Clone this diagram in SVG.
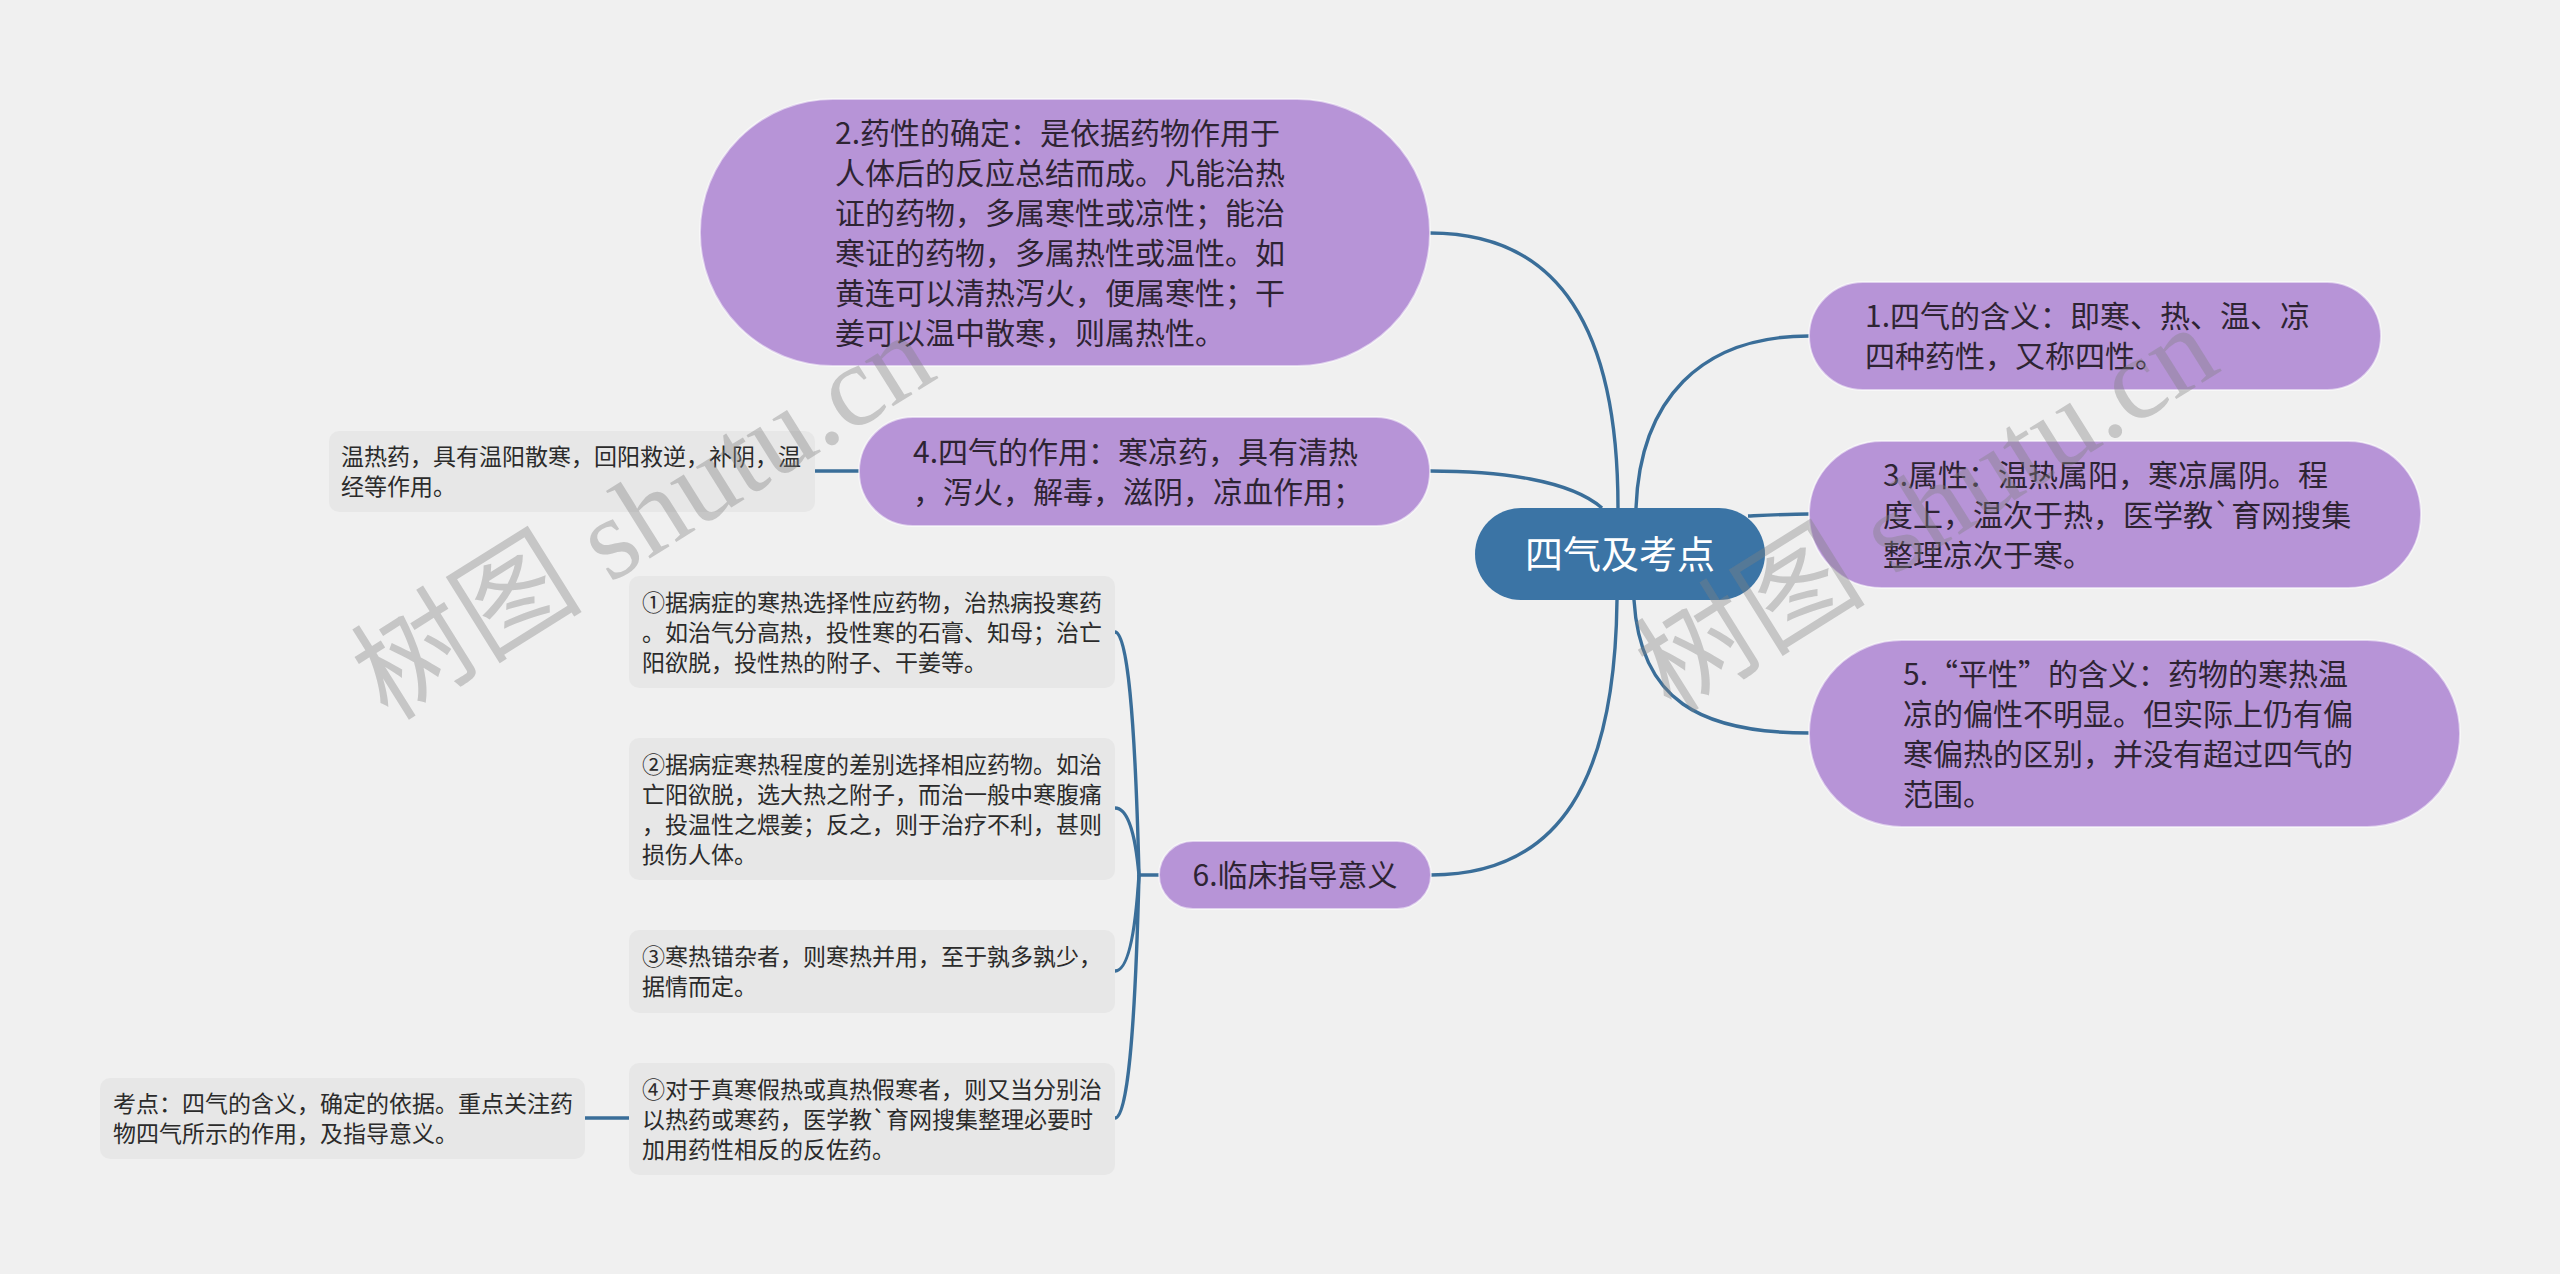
<svg xmlns="http://www.w3.org/2000/svg" width="2560" height="1274" viewBox="0 0 2560 1274">
<style>
.bg{fill:#f0f0f0}
.main{fill:#b794d7;stroke:#ffffff;stroke-opacity:0.55;stroke-width:2}
.root{fill:#3b74a5}
.leaf{fill:#e7e7e7}
.t30{font-family:"Noto Sans CJK SC","Noto Sans",sans-serif;font-size:30px;fill:#2e2433}
.t23{font-family:"Noto Sans CJK SC","Noto Sans",sans-serif;font-size:23px;fill:#2b2b2b}
.troot{font-family:"Noto Sans CJK SC","Noto Sans",sans-serif;font-size:38px;fill:#ffffff}
.wm{font-family:"Liberation Serif","Noto Sans CJK SC",serif;font-size:116px;fill:#808080;fill-opacity:0.38}
#connectors path{fill:none;stroke:#3a6e99;stroke-width:3.4}
</style>
<rect class="bg" x="0" y="0" width="2560" height="1274"/>

<g id="connectors">
<path d="M1618 508 C1618 330 1560 233 1430 233"/>
<path d="M1636 508 C1640 400 1700 336 1809 336"/>
<path d="M1602 508 C1570 480 1500 471 1430 471"/>
<path d="M1748 516 C1770 515 1790 514 1809 514"/>
<path d="M1634 600 C1640 700 1700 733 1809 733"/>
<path d="M1617 600 C1615 780 1560 875 1431 875"/>
<path d="M815 471 L859 471"/>
<path d="M1159 875 L1139 875 Q1133 632 1115 632"/>
<path d="M1139 875 Q1133 808 1115 808"/>
<path d="M1139 875 Q1133 971 1115 971"/>
<path d="M1139 875 Q1133 1118 1115 1118"/>
<path d="M585 1118 L629 1118"/>
</g>

<g id="root">
<rect class="root" x="1475" y="508" width="290" height="92" rx="46"/>
<text class="troot" x="1620" y="568" text-anchor="middle">四气及考点</text>
</g>

<g id="node1">
<rect class="main" x="1809" y="282" width="572" height="108" rx="54"/>
<text class="t30"><tspan x="1865" y="327">1.四气的含义：即寒、热、温、凉</tspan><tspan x="1865" y="367">四种药性，又称四性。</tspan></text>
</g>

<g id="node2">
<rect class="main" x="700" y="99" width="730" height="267" rx="133"/>
<text class="t30"><tspan x="835" y="144">2.药性的确定：是依据药物作用于</tspan><tspan x="835" y="184">人体后的反应总结而成。凡能治热</tspan><tspan x="835" y="224">证的药物，多属寒性或凉性；能治</tspan><tspan x="835" y="264">寒证的药物，多属热性或温性。如</tspan><tspan x="835" y="304">黄连可以清热泻火，便属寒性；干</tspan><tspan x="835" y="344">姜可以温中散寒，则属热性。</tspan></text>
</g>

<g id="node3">
<rect class="main" x="1809" y="441" width="612" height="147" rx="73"/>
<text class="t30"><tspan x="1883" y="486">3.属性：温热属阳，寒凉属阴。程</tspan><tspan x="1883" y="526">度上，温次于热，医学教`育网搜集</tspan><tspan x="1883" y="566">整理凉次于寒。</tspan></text>
</g>

<g id="node4">
<rect class="main" x="859" y="417" width="571" height="109" rx="54"/>
<text class="t30"><tspan x="913" y="463">4.四气的作用：寒凉药，具有清热</tspan><tspan x="913" y="503">，泻火，解毒，滋阴，凉血作用；</tspan></text>
</g>

<g id="node5">
<rect class="main" x="1809" y="640" width="651" height="187" rx="93"/>
<text class="t30"><tspan x="1903" y="685">5.“平性”的含义：药物的寒热温</tspan><tspan x="1903" y="725">凉的偏性不明显。但实际上仍有偏</tspan><tspan x="1903" y="765">寒偏热的区别，并没有超过四气的</tspan><tspan x="1903" y="805">范围。</tspan></text>
</g>

<g id="node6">
<rect class="main" x="1159" y="841" width="272" height="68" rx="34"/>
<text class="t30" x="1295" y="886" text-anchor="middle">6.临床指导意义</text>
</g>

<g id="leaf-wenre">
<rect class="leaf" x="329" y="431" width="486" height="81" rx="10"/>
<text class="t23"><tspan x="341" y="465">温热药，具有温阳散寒，回阳救逆，补阴，温</tspan><tspan x="341" y="495">经等作用。</tspan></text>
</g>

<g id="leaf1">
<rect class="leaf" x="629" y="576" width="486" height="112" rx="10"/>
<text class="t23"><tspan x="642" y="611">①据病症的寒热选择性应药物，治热病投寒药</tspan><tspan x="642" y="641">。如治气分高热，投性寒的石膏、知母；治亡</tspan><tspan x="642" y="671">阳欲脱，投性热的附子、干姜等。</tspan></text>
</g>

<g id="leaf2">
<rect class="leaf" x="629" y="738" width="486" height="142" rx="10"/>
<text class="t23"><tspan x="642" y="773">②据病症寒热程度的差别选择相应药物。如治</tspan><tspan x="642" y="803">亡阳欲脱，选大热之附子，而治一般中寒腹痛</tspan><tspan x="642" y="833">，投温性之煨姜；反之，则于治疗不利，甚则</tspan><tspan x="642" y="863">损伤人体。</tspan></text>
</g>

<g id="leaf3">
<rect class="leaf" x="629" y="930" width="486" height="83" rx="10"/>
<text class="t23"><tspan x="642" y="965">③寒热错杂者，则寒热并用，至于孰多孰少，</tspan><tspan x="642" y="995">据情而定。</tspan></text>
</g>

<g id="leaf4">
<rect class="leaf" x="629" y="1063" width="486" height="112" rx="10"/>
<text class="t23"><tspan x="642" y="1098">④对于真寒假热或真热假寒者，则又当分别治</tspan><tspan x="642" y="1128">以热药或寒药，医学教`育网搜集整理必要时</tspan><tspan x="642" y="1158">加用药性相反的反佐药。</tspan></text>
</g>

<g id="leaf-kaodian">
<rect class="leaf" x="100" y="1078" width="485" height="81" rx="10"/>
<text class="t23"><tspan x="113" y="1112">考点：四气的含义，确定的依据。重点关注药</tspan><tspan x="113" y="1142">物四气所示的作用，及指导意义。</tspan></text>
</g>

<g id="watermarks">
<text class="wm" x="645" y="555" text-anchor="middle" transform="rotate(-32 645 519)">树图 shutu.cn</text>
<text class="wm" x="1927" y="548" text-anchor="middle" transform="rotate(-32 1927 510)">树图 shutu.cn</text>
</g>
</svg>
